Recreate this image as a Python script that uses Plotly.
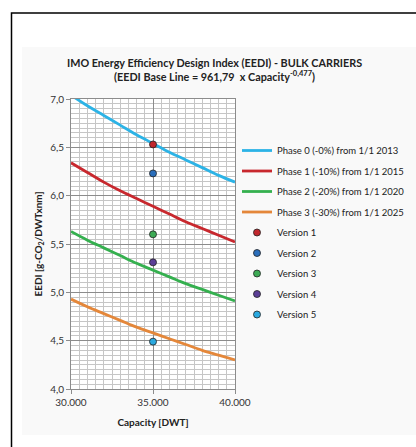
import plotly.graph_objects as go

# ---- data ----
capacity = [30000, 31000, 32000, 33000, 34000, 35000, 36000, 37000, 38000, 39000, 40000]
phase0 = [7.04, 6.93, 6.83, 6.73, 6.63, 6.54, 6.45, 6.37, 6.29, 6.21, 6.14]
phase1 = [6.34, 6.24, 6.14, 6.05, 5.97, 5.89, 5.81, 5.73, 5.66, 5.59, 5.52]
phase2 = [5.63, 5.54, 5.46, 5.38, 5.30, 5.23, 5.16, 5.09, 5.03, 4.97, 4.91]
phase3 = [4.93, 4.85, 4.78, 4.71, 4.64, 4.58, 4.52, 4.46, 4.40, 4.35, 4.30]
phase_names = ["Phase 0 (-0%) from 1/1 2013", "Phase 1 (-10%) from 1/1 2015",
               "Phase 2 (-20%) from 1/1 2020", "Phase 3 (-30%) from 1/1 2025"]
phase_colors = ["#2CB3E6", "#C8282E", "#35B04F", "#E4873A"]

version_names = ["Version 1", "Version 2", "Version 3", "Version 4", "Version 5"]
version_capacity = [35000, 35000, 35000, 35000, 35000]
version_eedi = [6.53, 6.23, 5.60, 5.31, 4.49]
version_colors = ["#C0272D", "#2A6EBB", "#3DAA55", "#5B3E96", "#2AA9E0"]

title_line1 = "<b>IMO Energy Efficiency Design Index (EEDI) - BULK CARRIERS</b>"
title_line2 = "<b>(EEDI Base Line = 961,79  x Capacity<sup>-0,477</sup>)</b>"
x_title = "<b>Capacity [DWT]</b>"
y_title = "<b>EEDI [g-CO<sub>2</sub>/DWTxnm]</b>"

# ---- layout geometry ----
W, H = 416, 447
L, R, T, B = 71, 181, 99, 58
PW, PH = W - L - R, H - T - B
FONT = "Lato"

def px_x(p):
    return (p - L) / PW

def px_y(p):
    return 1 - (p - T) / PH

fig = go.Figure()

for name, ys, col in zip(phase_names, [phase0, phase1, phase2, phase3], phase_colors):
    fig.add_trace(go.Scatter(x=capacity, y=ys, mode="lines", name=name,
                             line=dict(color=col, width=2.8, shape="spline"),
                             legendgroup=name, cliponaxis=True))

for name, xv, yv, col in zip(version_names, version_capacity, version_eedi, version_colors):
    fig.add_trace(go.Scatter(x=[xv], y=[yv], mode="markers", name=name,
                             marker=dict(color=col, size=7, line=dict(color="#222", width=0.8)),
                             legendgroup=name))

fig.update_layout(
    width=W, height=H,
    margin=dict(l=L, r=R, t=T, b=B, autoexpand=False),
    paper_bgcolor="white", plot_bgcolor="white",
    separators=",.",
    font=dict(family=FONT, size=10, color="#333"),
    showlegend=True,
    legend=dict(x=px_x(237), y=px_y(136), xanchor="left", yanchor="top",
                font=dict(family=FONT, size=9.5, color="#222"),
                bgcolor="rgba(0,0,0,0)", traceorder="grouped", tracegroupgap=1.5,
                itemwidth=30),
    xaxis=dict(range=[30000, 40000], dtick=5000, tick0=30000, tickformat=",d",
               showgrid=True, gridcolor="#8c8c8c", gridwidth=1,
               minor=dict(dtick=500, showgrid=True, gridcolor="#c6c6c6", gridwidth=1,
                          ticks=""),
               showline=True, linecolor="#8c8c8c", linewidth=1, mirror=True,
               ticks="outside", ticklen=4, tickcolor="#8c8c8c",
               tickfont=dict(family=FONT, size=10, color="#333"),
               zeroline=False,
               title=dict(text=x_title, standoff=11,
                          font=dict(family=FONT, size=10, color="#222"))),
    yaxis=dict(range=[4.0, 7.0], dtick=0.5, tick0=4.0, tickformat=".1f",
               showgrid=True, gridcolor="#8c8c8c", gridwidth=1,
               minor=dict(dtick=0.05, showgrid=True, gridcolor="#c6c6c6", gridwidth=1,
                          ticks=""),
               showline=True, linecolor="#8c8c8c", linewidth=1, mirror=True,
               ticks="outside", ticklen=4, tickcolor="#8c8c8c",
               tickfont=dict(family=FONT, size=10, color="#333"),
               zeroline=False,
               title=dict(text=y_title, standoff=5,
                          font=dict(family=FONT, size=10, color="#222"))),
    annotations=[
        dict(text=title_line1, xref="paper", yref="paper", x=px_x(214), y=px_y(63),
             xanchor="center", yanchor="middle", showarrow=False,
             font=dict(family=FONT, size=10.8, color="#222")),
        dict(text=title_line2, xref="paper", yref="paper", x=px_x(214), y=px_y(75.5),
             xanchor="center", yanchor="middle", showarrow=False,
             font=dict(family=FONT, size=10.8, color="#222")),
    ],
    shapes=[
        dict(type="rect", xref="paper", yref="paper", layer="below",
             x0=px_x(22), x1=px_x(420), y0=px_y(47), y1=px_y(435),
             fillcolor="#f9f9f9", line=dict(width=0)),
        dict(type="rect", xref="paper", yref="paper", layer="below",
             x0=0, x1=1, y0=0, y1=1, fillcolor="white", line=dict(width=0)),
        dict(type="rect", xref="paper", yref="paper", layer="above",
             x0=px_x(11.5), x1=px_x(440), y0=px_y(13), y1=px_y(470),
             fillcolor="rgba(0,0,0,0)", line=dict(color="black", width=1.5)),
    ],
)

fig.write_html("out.html", config={"displayModeBar": False},
               post_script="document.body.style.margin='0';document.body.style.overflow='hidden';")
